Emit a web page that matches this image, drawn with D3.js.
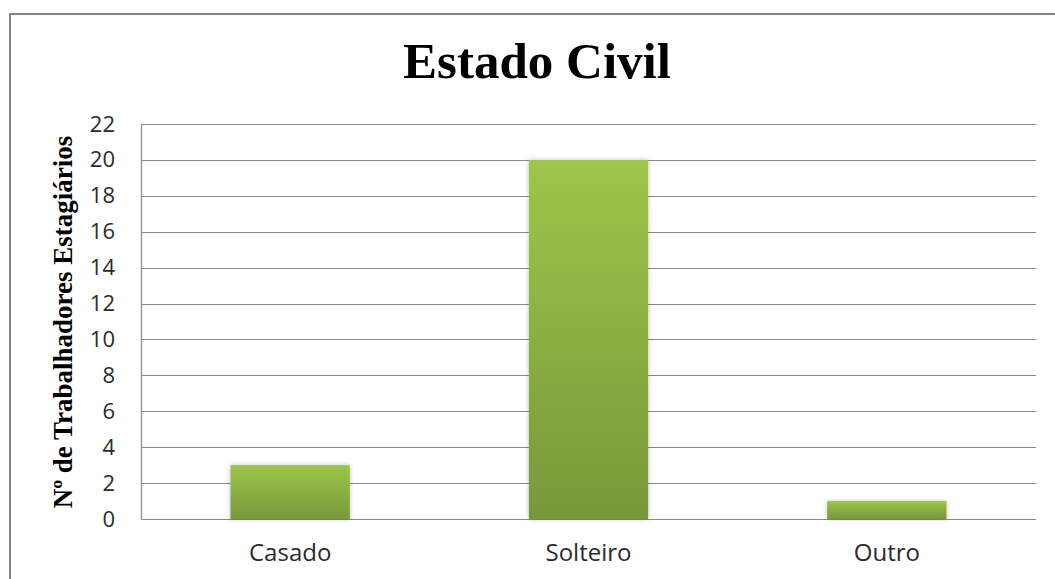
<!DOCTYPE html>
<html>
<head>
<meta charset="utf-8">
<script src="https://cdn.jsdelivr.net/npm/d3@7"></script>
<style>
  body { margin: 0; background: #fff; }
</style>
</head>
<body>
<div id="chart"></div>
<script>
// chart data
const categories = ['Casado', 'Solteiro', 'Outro']
const values = [3, 20, 1]
const yTicks = [0, 2, 4, 6, 8, 10, 12, 14, 16, 18, 20, 22]

const width = 1055
const height = 579
const margin = { top: 124, right: 19, bottom: 60, left: 141 }

const svg = d3.select('#chart').append('svg')
  .attr('width', width)
  .attr('height', height)

// outer frame (runs off the right and bottom like the original)
svg.append('rect')
  .attr('x', 10).attr('y', 14)
  .attr('width', 1100).attr('height', 700)
  .attr('fill', 'none')
  .attr('stroke', '#858585')
  .attr('stroke-width', 2)

const defs = svg.append('defs')
const grad = defs.append('linearGradient')
  .attr('id', 'barGrad')
  .attr('x1', 0).attr('y1', 0).attr('x2', 0).attr('y2', 1)
grad.append('stop').attr('offset', '0%').attr('stop-color', '#9dc64a')
grad.append('stop').attr('offset', '100%').attr('stop-color', '#779839')

const shadow = defs.append('filter')
  .attr('id', 'barShadow')
  .attr('x', '-10%').attr('y', '-10%').attr('width', '120%').attr('height', '120%')
shadow.append('feGaussianBlur').attr('in', 'SourceAlpha').attr('stdDeviation', 2.5)
shadow.append('feOffset').attr('dx', 0).attr('dy', 0).attr('result', 'blur')
shadow.append('feComponentTransfer').append('feFuncA').attr('type', 'linear').attr('slope', 0.25)
const merge = shadow.append('feMerge')
merge.append('feMergeNode')
merge.append('feMergeNode').attr('in', 'SourceGraphic')

const x = d3.scaleBand()
  .domain(categories)
  .range([margin.left, width - margin.right])
  .paddingInner(0.6)
  .paddingOuter(0.3)

const y = d3.scaleLinear()
  .domain([0, 22])
  .range([height - margin.bottom, margin.top])

// gridlines
svg.append('g')
  .selectAll('line')
  .data(yTicks)
  .enter()
    .append('line')
    .attr('x1', margin.left)
    .attr('x2', width - margin.right)
    .attr('y1', d => Math.round(y(d)) + 0.5)
    .attr('y2', d => Math.round(y(d)) + 0.5)
    .attr('stroke', '#8a8a8a')
    .attr('stroke-width', 1.2)

// y axis line
svg.append('line')
  .attr('x1', margin.left + 0.5).attr('x2', margin.left + 0.5)
  .attr('y1', y(22)).attr('y2', y(0))
  .attr('stroke', '#8a8a8a')
  .attr('stroke-width', 1.2)

// tick labels
const yAxis = d3.axisLeft(y).tickValues(yTicks).tickSize(0).tickPadding(26)
const yAxisG = svg.append('g')
  .attr('transform', `translate(${margin.left},0)`)
  .call(yAxis)
yAxisG.select('.domain').remove()
yAxisG.selectAll('text')
  .style('font-family', '"Open Sans", sans-serif')
  .style('font-size', '22px')
  .attr('fill', '#2b2b2b')

// bars
svg.append('g')
  .selectAll('rect')
  .data(values)
  .enter()
    .append('rect')
    .attr('x', (d, i) => x(categories[i]))
    .attr('y', d => y(d))
    .attr('width', x.bandwidth())
    .attr('height', d => y(0) - y(d))
    .attr('fill', 'url(#barGrad)')
    .attr('filter', 'url(#barShadow)')

// category labels
const xAxis = d3.axisBottom(x).tickSize(0).tickPadding(25)
const xAxisG = svg.append('g')
  .attr('transform', `translate(0,${y(0)})`)
  .call(xAxis)
xAxisG.select('.domain').remove()
xAxisG.selectAll('text')
  .style('font-family', '"Open Sans", sans-serif')
  .style('font-size', '24px')
  .attr('fill', '#2b2b2b')

// title
svg.append('text')
  .text('Estado Civil')
  .attr('x', 537)
  .attr('y', 78)
  .attr('text-anchor', 'middle')
  .style('font-family', '"Liberation Serif", "Times New Roman", serif')
  .style('font-size', '51px')
  .style('font-weight', '700')
  .attr('fill', '#000')

// y axis title
svg.append('text')
  .text('Nº de Trabalhadores Estagiários')
  .attr('transform', `translate(72,322) rotate(-90)`)
  .attr('text-anchor', 'middle')
  .style('font-family', '"Liberation Serif", "Times New Roman", serif')
  .style('font-size', '27px')
  .style('font-weight', '700')
  .attr('fill', '#000')
</script>
</body>
</html>
